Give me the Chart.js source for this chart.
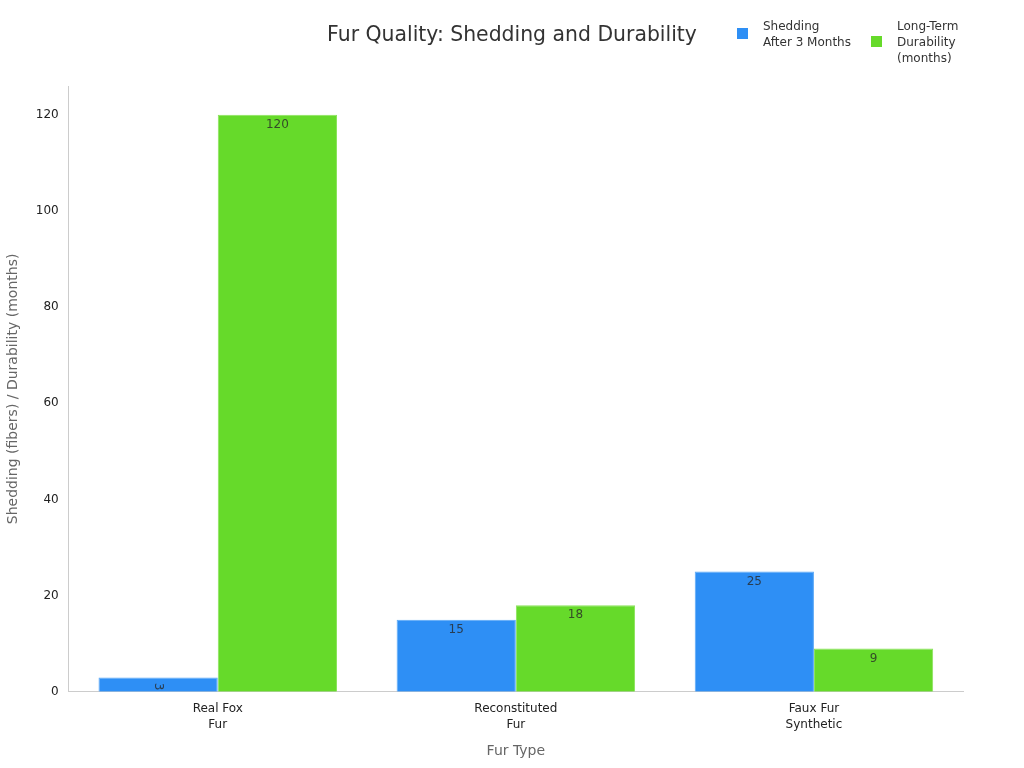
<!DOCTYPE html>
<html><head><meta charset="utf-8">
<script src="https://cdn.jsdelivr.net/npm/chart.js@4"></script>
<style>html,body{margin:0;padding:0;background:#fff}#wrap{width:1024px;height:768px}</style>
</head><body><div id="wrap"><canvas id="c" width="1024" height="768"></canvas></div>
<script>
const categories = [["Real Fox","Fur"],["Reconstituted","Fur"],["Faux Fur","Synthetic"]];
const seriesNames = [["Shedding","After 3 Months"],["Long-Term","Durability","(months)"]];
const shedding = [3, 15, 25];
const durability = [120, 18, 9];
const titleText = "Fur Quality: Shedding and Durability";
const colors = ["#2e8ff5","#66da2a"];
const borders = ["#5aa8f7","#8ae35a"];
const FONT = "'DejaVu Sans', sans-serif";

const labelPlugin = {
  id: 'barLabels',
  afterDatasetsDraw(chart) {
    const ctx = chart.ctx;
    ctx.save();
    ctx.font = "12px " + FONT;
    ctx.fillStyle = "rgba(40,40,40,0.8)";
    ctx.textAlign = "center";
    ctx.textBaseline = "middle";
    chart.data.datasets.forEach((ds, di) => {
      chart.getDatasetMeta(di).data.forEach((bar, i) => {
        const v = ds.data[i];
        const h = bar.base - bar.y;
        if (h < 18) {
          ctx.save();
          ctx.translate(bar.x, bar.y + h / 2 + 2);
          ctx.rotate(Math.PI / 2);
          ctx.fillText(String(v), 0, 0);
          ctx.restore();
        } else {
          ctx.fillText(String(v), bar.x, bar.y + 10);
        }
      });
    });
    ctx.restore();
  }
};

const legendPlugin = {
  id: 'customLegend',
  afterDraw(chart) {
    const ctx = chart.ctx;
    ctx.save();
    ctx.font = "20.4px " + FONT;
    ctx.fillStyle = "#333";
    ctx.textAlign = "center";
    ctx.textBaseline = "middle";
    ctx.fillText(titleText, 512, 36);
    ctx.font = "12px " + FONT;
    ctx.textAlign = "left";
    const items = [{x: 737, sq: 28}, {x: 871, sq: 36}];
    items.forEach((it, k) => {
      ctx.fillStyle = colors[k];
      ctx.fillRect(it.x, it.sq, 11, 11);
      ctx.fillStyle = "#333";
      seriesNames[k].forEach((line, j) => {
        ctx.fillText(line, it.x + 26, 27 + j * 16);
      });
    });
    ctx.restore();
  }
};

new Chart(document.getElementById('c'), {
  type: 'bar',
  data: {
    labels: categories,
    datasets: [
      {label: seriesNames[0].join(' '), data: shedding, backgroundColor: colors[0], borderColor: borders[0], borderWidth: 1},
      {label: seriesNames[1].join(' '), data: durability, backgroundColor: colors[1], borderColor: borders[1], borderWidth: 1}
    ]
  },
  options: {
    responsive: false,
    animation: false,
    devicePixelRatio: 1,
    layout: {padding: {left: 1, right: 61, top: 0, bottom: 4}},
    datasets: {bar: {categoryPercentage: 0.8, barPercentage: 1}},
    plugins: {
      legend: {display: false},
      tooltip: {enabled: false},
      title: {
        display: true,
        text: titleText,
        color: "rgba(0,0,0,0)",
        font: {family: FONT, size: 20, weight: 'normal'},
        padding: {top: 24, bottom: 38}
      }
    },
    scales: {
      x: {
        grid: {display: false, drawTicks: true, tickLength: 6, color: "#ccc"},
        border: {display: true, color: "#ccc"},
        ticks: {color: "#222", font: {family: FONT, size: 12, lineHeight: 1.35}, maxRotation: 0, padding: 3},
        title: {display: true, text: "Fur Type", color: "#666", font: {family: FONT, size: 14}, padding: {top: 7}}
      },
      y: {
        min: 0, max: 126,
        grid: {display: false, drawTicks: true, tickLength: 6, color: "#ccc"},
        border: {display: true, color: "#ccc"},
        ticks: {stepSize: 20, color: "#222", font: {family: FONT, size: 12}, padding: 4,
          callback: (v) => (v % 20 === 0 ? v : null)},
        title: {display: true, text: "Shedding (fibers) / Durability (months)", color: "#666", font: {family: FONT, size: 14}, padding: {bottom: 10}}
      }
    }
  },
  plugins: [labelPlugin, legendPlugin]
});
</script></body></html>
